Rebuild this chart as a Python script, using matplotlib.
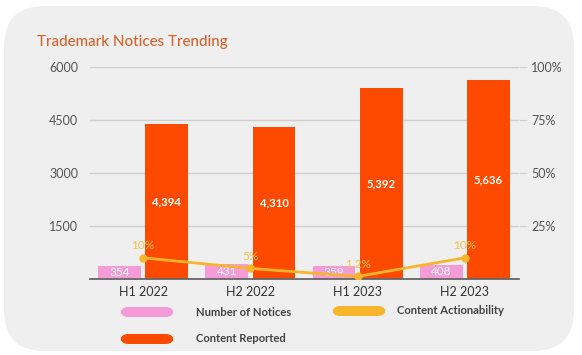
import matplotlib
matplotlib.use("Agg")
import matplotlib.pyplot as plt
from matplotlib.patches import FancyBboxPatch
import numpy as np

categories = ["H1 2022", "H2 2022", "H1 2023", "H2 2023"]
notices = [354, 431, 359, 408]
reported = [4394, 4310, 5392, 5636]
actionability = [0.10, 0.05, 0.012, 0.10]
action_labels = ["10%", "5%", "1.2%", "10%"]
left_ticks = [1500, 3000, 4500, 6000]
right_ticks = [0.25, 0.5, 0.75, 1.0]
right_labels = ["25%", "50%", "75%", "100%"]

PINK = "#F59BD8"
RED = "#FE4A00"
YELLOW = "#F7B52C"
GREY = "#555555"
FONT = "Lato"

W, H = 582, 355
fig = plt.figure(figsize=(W / 100, H / 100), dpi=100)
fig.patch.set_facecolor("white")

bg = FancyBboxPatch((4 / W, 4 / H), 570 / W, 345 / H,
                    boxstyle="round,pad=0,rounding_size=0.07",
                    transform=fig.transFigure, facecolor="#efefef",
                    edgecolor="none", mutation_aspect=W / H, zorder=-10)
fig.patches.append(bg)

ax = fig.add_axes([89.5 / W, 1 - 279 / H, 429 / W, 212 / H])
ax.set_facecolor("none")
x = np.arange(len(categories))
bw = 0.40
off = 0.22
ax.bar(x - off, notices, bw, color=PINK, zorder=3)
ax.bar(x + off, reported, bw, color=RED, zorder=3)
for xi, v in zip(x, notices):
    ax.text(xi - off, v / 2, f"{v:,}", ha="center", va="center", color="white",
            fontsize=8.5, family=FONT, zorder=5)
for xi, v in zip(x, reported):
    ax.text(xi + off, v / 2, f"{v:,}", ha="center", va="center", color="white",
            fontsize=8.2, fontweight="bold", family=FONT, zorder=5)

ax.set_xlim(-0.5, 3.5)
ax.set_ylim(0, 6000)
ax.set_yticks(left_ticks)
ax.set_yticklabels([str(t) for t in left_ticks], family=FONT, fontsize=9, color=GREY)
ax.set_xticks(x)
ax.set_xticklabels(categories, family=FONT, fontsize=9, color="#333333")
ax.tick_params(axis="both", length=0, pad=8)
ax.tick_params(axis="x", pad=5)
ax.grid(axis="y", color="#cfcfcf", linewidth=1, zorder=0)
for s in ["top", "right", "left"]:
    ax.spines[s].set_visible(False)
ax.spines["bottom"].set_color("#666666")
ax.spines["bottom"].set_linewidth(1.3)
ax.spines["bottom"].set_zorder(4)

ax2 = ax.twinx()
ax2.set_ylim(0, 1)
ax2.plot(x, actionability, color=YELLOW, linewidth=2, marker="o", markersize=5, zorder=6)
for xi, v, lab in zip(x, actionability, action_labels):
    ax2.text(xi, v + 0.058, lab, ha="center", va="center", color="#F5C04A",
             fontsize=8.5, family=FONT, zorder=7)
ax2.set_yticks(right_ticks)
ax2.set_yticklabels(right_labels, family=FONT, fontsize=9, color=GREY)
ax2.tick_params(axis="y", length=6, color="#cfcfcf", pad=3)
for s in ["top", "right", "left", "bottom"]:
    ax2.spines[s].set_visible(False)

fig.text(37 / W, 1 - 42 / H, "Trademark Notices Trending", color="#D9622B",
         fontsize=10.9, fontweight="medium", family=FONT, va="center", ha="left")

def legend_item(px, py, color, label, tx):
    p = FancyBboxPatch(((px) / W, (H - py - 5) / H), 54 / W, 10 / H,
                       boxstyle="round,pad=0,rounding_size=0.0141",
                       transform=fig.transFigure, facecolor=color, edgecolor="none",
                       mutation_aspect=W / H)
    fig.patches.append(p)
    fig.text(tx / W, 1 - py / H, label, color="#444444", fontsize=8.1,
             fontweight="bold", family=FONT, va="center", ha="left")

legend_item(120, 312, PINK, "Number of Notices", 196)
legend_item(332, 311, YELLOW, "Content Actionability", 397)
legend_item(120, 339, RED, "Content Reported", 196)

fig.savefig("out.png", dpi=100, facecolor="white")
